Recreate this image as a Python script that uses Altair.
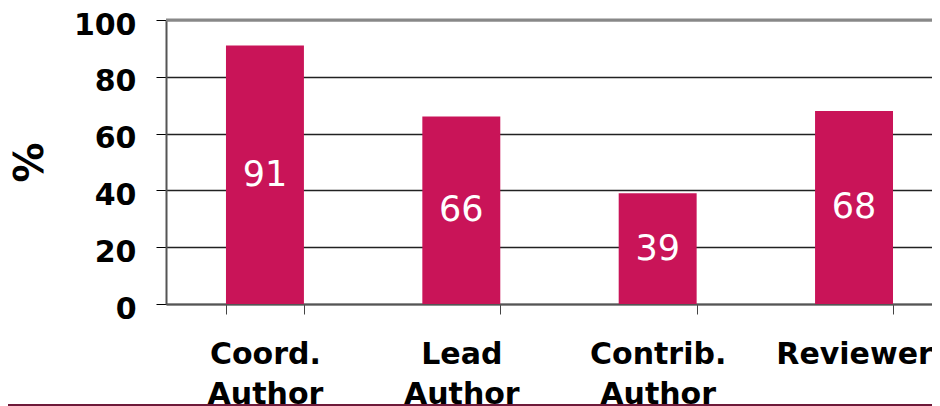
import altair as alt
import pandas as pd

roles = ["Coord.|Author", "Lead|Author", "Contrib.|Author", "Reviewer"]
values = [91, 66, 39, 68]
y_ticks = [0, 20, 40, 60, 80, 100]

df = pd.DataFrame({"role": roles, "value": values})

W = 766
H = 284
FONT = "DejaVu Sans"
BAR = "#C91458"

x_scale = alt.Scale(domain=roles, paddingInner=0.603, paddingOuter=0.252, align=0.606)
y_scale = alt.Scale(domain=[0, 100], nice=False)

x_axis = alt.Axis(
    title=None, labelExpr="split(datum.label, '|')", labelFont=FONT,
    labelFontWeight="bold", labelFontSize=30, labelColor="black",
    labelPadding=25, labelLineHeight=40, labelAngle=0, labelBaseline="top",
    tickBand="extent", tickSize=10, tickColor="#444", tickWidth=1,
    domainColor="#555", domainWidth=2, grid=False,
)
y_axis = alt.Axis(
    title="%", values=y_ticks, labelFont=FONT, labelFontSize=30,
    labelFontWeight="bold", labelColor="black", labelPadding=20, labelOffset=5,
    tickSize=10, tickColor="black", tickWidth=1,
    grid=True, gridColor="#222", gridWidth=1.5,
    domainColor="#555", domainWidth=2,
    titleFont=FONT, titleFontSize=40, titleFontWeight="bold", titleColor="black",
    titleAngle=270, titleX=-136, titleY=142, titleAlign="center", titleBaseline="middle",
)

base = alt.Chart(df)
bars = base.mark_bar(color=BAR).encode(
    x=alt.X("role:N", scale=x_scale, sort=roles, axis=x_axis),
    y=alt.Y("value:Q", scale=y_scale, axis=y_axis),
)
labels = base.transform_calculate(mid="datum.value / 2").mark_text(
    color="white", font=FONT, fontSize=35, baseline="middle"
).encode(
    x=alt.X("role:N", scale=x_scale, sort=roles),
    y=alt.Y("mid:Q", scale=y_scale),
    text=alt.Text("value:Q"),
)
top_rule = alt.Chart(pd.DataFrame({"y": [100]})).mark_rule(
    color="#888", strokeWidth=3
).encode(y=alt.Y("y:Q", scale=y_scale))
bottom_rule = alt.Chart(pd.DataFrame({"a": [0]})).mark_rule(
    color="#6E1A3A", strokeWidth=2
).encode(x=alt.value(-170), x2=alt.value(W + 10), y=alt.value(385))

chart = alt.layer(bars, labels, top_rule, bottom_rule).properties(
    width=W, height=H,
    autosize=alt.AutoSizeParams(type="none"),
    padding={"left": 158, "top": 12, "right": 0, "bottom": 102},
).configure_view(stroke=None)

chart.save("out.html", embed_options={"renderer": "svg", "actions": False})
